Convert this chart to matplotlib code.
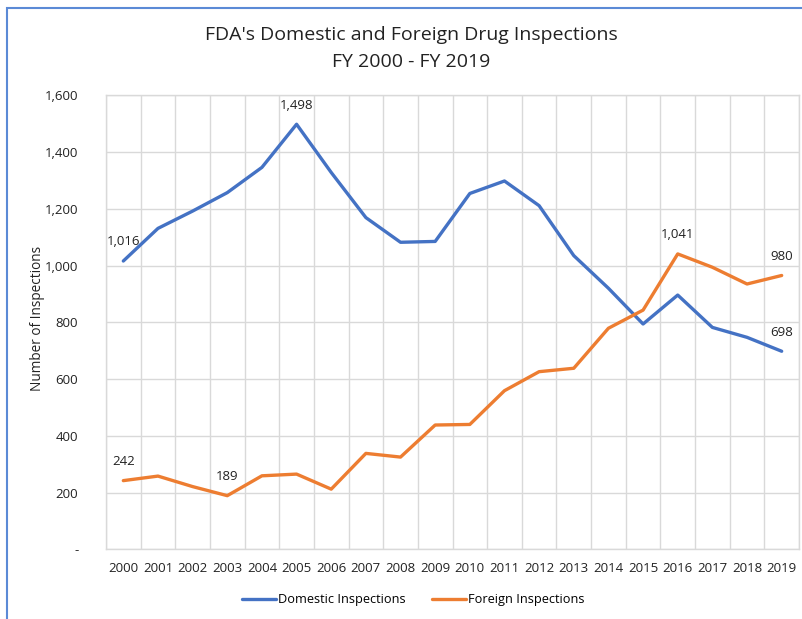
import matplotlib.pyplot as plt
from matplotlib.patches import Rectangle

years = [str(y) for y in range(2000, 2020)]
domestic = [1016, 1131, 1192, 1257, 1346, 1498, 1328, 1169, 1082, 1085,
            1254, 1298, 1211, 1035, 920, 794, 896, 782, 747, 698]
foreign = [242, 258, 221, 189, 259, 265, 212, 338, 325, 438,
           440, 559, 626, 638, 779, 843, 1041, 994, 935, 965]

# labelled points: (series, index, text)
labels = [('dom', 0, '1,016'), ('dom', 5, '1,498'), ('dom', 19, '698'),
          ('for', 0, '242'), ('for', 3, '189'), ('for', 16, '1,041'),
          ('for', 19, '980')]

yticks = [0, 200, 400, 600, 800, 1000, 1200, 1400, 1600]

plt.rcParams['font.family'] = ['Open Sans', 'DejaVu Sans']

blue = '#4472C4'
orange = '#ED7D31'
grid = '#d9d9d9'

fig = plt.figure(figsize=(8.03, 6.19), dpi=100)
ax = fig.add_axes([106 / 803, 1 - 549.3 / 619, 693 / 803, 454 / 619])

x = [i + 0.5 for i in range(len(years))]
ax.plot(x, domestic, color=blue, lw=2.4, solid_capstyle='round',
        label='Domestic Inspections')
ax.plot(x, foreign, color=orange, lw=2.4, solid_capstyle='round',
        label='Foreign Inspections')

series = {'dom': domestic, 'for': foreign}
for s, i, txt in labels:
    ax.annotate(txt, (x[i], series[s][i]), xytext=(0, 13.7),
                textcoords='offset points', ha='center', va='center',
                fontsize=9.5, color='#222222')

ax.set_xlim(0, len(years))
ax.set_ylim(0, 1600)
ax.set_xticks(x)
ax.set_xticklabels(years)
ax.set_xticks(range(len(years) + 1), minor=True)
ax.set_yticks(yticks)
ax.set_yticklabels(['-' if v == 0 else f'{v:,}' for v in yticks])
ax.grid(True, which='minor', axis='x', color=grid, lw=1)
ax.grid(True, which='major', axis='y', color=grid, lw=1)
ax.tick_params(which='both', length=0)
ax.tick_params(axis='x', pad=9, labelsize=9.5, colors='#222222')
ax.tick_params(axis='y', pad=20, labelsize=9.5, colors='#222222')
for sp in ax.spines.values():
    sp.set_color(grid)
    sp.set_linewidth(1)
ax.set_axisbelow(True)

fig.text(38 / 803, 1 - 318 / 619, 'Number of Inspections', rotation=90,
         ha='center', va='center', fontsize=9.8, color='#222222')
fig.text(411 / 803, 1 - 35 / 619, "FDA's Domestic and Foreign Drug Inspections",
         ha='center', va='center', fontsize=14, color='#222222')
fig.text(411 / 803, 1 - 62 / 619, 'FY 2000 - FY 2019',
         ha='center', va='center', fontsize=14, color='#222222')

fig.legend(loc='center', bbox_to_anchor=(413 / 803, 1 - 600 / 619), ncol=2,
           frameon=False, fontsize=9.2, handlelength=2.66, handletextpad=0.15,
           columnspacing=2.1)

fig.patches.append(Rectangle((7 / 803, -0.1), 1.2, 1 - 8 / 619 + 0.1,
                             transform=fig.transFigure, fill=False,
                             edgecolor='#5b8ad6', lw=1.5))

fig.savefig('out.png', dpi=100)
